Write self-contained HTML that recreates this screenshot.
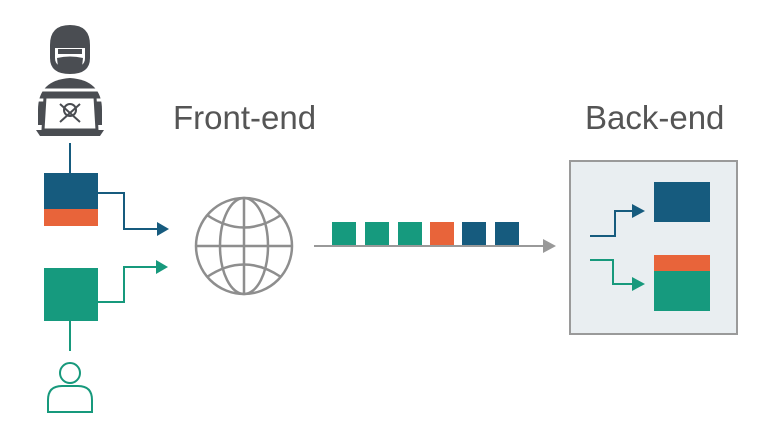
<!DOCTYPE html>
<html><head><style>
html,body{margin:0;padding:0;background:#fff;width:776px;height:437px;overflow:hidden}
text{font-family:"Liberation Sans",sans-serif}
</style></head><body>
<svg width="776" height="437" viewBox="0 0 776 437" xmlns="http://www.w3.org/2000/svg">
<!-- hacker -->
<g fill="#4a4d52">
<path d="M50 45 Q50 25 70 25 Q90 25 90 45 L90 58 Q90 74 70 74 Q50 74 50 58Z"/>
<path d="M55 48 H85 V58 Q85 68 70 68 Q55 68 55 58Z" fill="#fff"/>
<path d="M57 58 Q70 55 83 58 L82 67 Q70 76 58 67Z"/>
<rect x="58" y="49" width="24" height="5" fill="#4a4d52"/>
<path d="M38 110 Q38 80 70 78 Q102 80 102 110 L102 125 L38 125Z"/>
<path d="M40 90 H100 M38 100 H102" stroke="#fff" stroke-width="3"/>
<path d="M45 97 H95 L97 130 H43Z" fill="#fff" stroke="#4a4d52" stroke-width="3"/>
<path d="M36 130 H104 L100 136 H40Z"/>
<circle cx="70" cy="110" r="6" fill="none" stroke="#4a4d52" stroke-width="2"/>
<path d="M60 104 L80 122 M80 104 L60 122" stroke="#4a4d52" stroke-width="2"/>
</g>
<!-- connectors left -->
<g fill="none" stroke-width="2">
<path d="M70 143 V173" stroke="#165b7e"/>
<path d="M98 193 H124 V229 H158" stroke="#165b7e"/>
<path d="M98 302 H124 V267 H158" stroke="#17997c"/>
<path d="M70 321 V351" stroke="#17997c"/>
</g>
<path d="M157 222 L169 229 L157 236Z" fill="#165b7e"/>
<path d="M156 260 L168 267 L156 274Z" fill="#17997c"/>
<rect x="44" y="173" width="54" height="36" fill="#165b7e"/>
<rect x="44" y="209" width="54" height="17" fill="#e8643a"/>
<rect x="44" y="268" width="54" height="53" fill="#169a7e"/>
<circle cx="70" cy="373" r="10" fill="none" stroke="#17997c" stroke-width="2"/>
<path d="M48 412 V400 Q48 386 62 386 H78 Q92 386 92 400 V412Z" fill="none" stroke="#17997c" stroke-width="2"/>
<!-- globe -->
<g fill="none" stroke="#8e8e8e" stroke-width="2.5">
<circle cx="244" cy="246" r="48"/>
<ellipse cx="244" cy="246" rx="24" ry="48"/>
<path d="M244 198 V294 M196 246 H292"/>
<path d="M207 215 Q244 240 281 215 M207 277 Q244 252 281 277"/>
</g>
<text x="173" y="129" font-size="33" fill="#555">Front-end</text>
<text x="585" y="129" font-size="33" fill="#555">Back-end</text>
<!-- packets -->
<rect x="332" y="222" width="24" height="24" fill="#169a7e"/>
<rect x="365" y="222" width="24" height="24" fill="#169a7e"/>
<rect x="398" y="222" width="24" height="24" fill="#169a7e"/>
<rect x="430" y="222" width="24" height="24" fill="#e8643a"/>
<rect x="462" y="222" width="24" height="24" fill="#165b7e"/>
<rect x="495" y="222" width="24" height="24" fill="#165b7e"/>
<path d="M314 246 H545" stroke="#999" stroke-width="2"/>
<path d="M543 239 L556 246 L543 253Z" fill="#999"/>
<!-- backend -->
<rect x="570" y="161" width="167" height="173" fill="#e9eef1" stroke="#9a9a9a" stroke-width="2"/>
<rect x="654" y="182" width="56" height="40" fill="#165b7e"/>
<rect x="654" y="255" width="56" height="16" fill="#e8643a"/>
<rect x="654" y="271" width="56" height="40" fill="#169a7e"/>
<g fill="none" stroke-width="2">
<path d="M590 236 H615 V211 H634" stroke="#165b7e"/>
<path d="M590 260 H613 V284 H634" stroke="#17997c"/>
</g>
<path d="M632 204 L645 211 L632 218Z" fill="#165b7e"/>
<path d="M632 277 L645 284 L632 291Z" fill="#17997c"/>
</svg>
</body></html>
